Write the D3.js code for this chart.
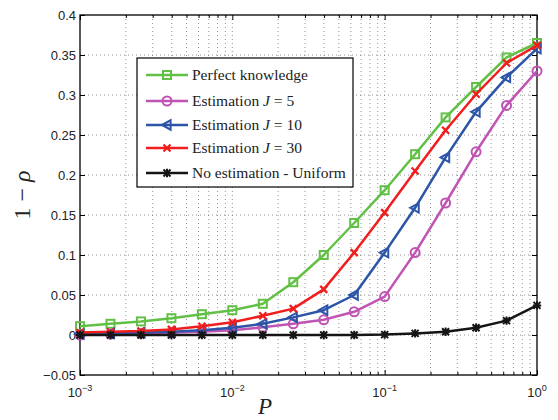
<!DOCTYPE html>
<html><head><meta charset="utf-8">
<script src="https://cdn.jsdelivr.net/npm/d3@7"></script>
<style>body{margin:0;background:#fff}svg{display:block}
.serif{font-family:'Liberation Serif','Times New Roman','DejaVu Serif',serif}
.sans{font-family:'Liberation Sans',Arial,sans-serif}</style>
</head><body>
<svg id="chart" width="558" height="420"></svg>
<script>
const xExponents = [-3,-2.8,-2.6,-2.4,-2.2,-2,-1.8,-1.6,-1.4,-1.2,-1,-0.8,-0.6,-0.4,-0.2,0];
const perfect = [0.011,0.014,0.017,0.021,0.026,0.031,0.039,0.066,0.100,0.140,0.181,0.226,0.272,0.310,0.347,0.365];
const estJ5  = [0.000,0.001,0.002,0.003,0.004,0.006,0.0096,0.014,0.019,0.029,0.048,0.103,0.165,0.229,0.287,0.330];
const estJ10 = [0.001,0.002,0.003,0.004,0.006,0.009,0.014,0.022,0.031,0.050,0.103,0.159,0.222,0.279,0.322,0.358];
const estJ30 = [0.003,0.004,0.005,0.007,0.011,0.016,0.024,0.033,0.057,0.103,0.153,0.205,0.256,0.301,0.340,0.362];
const noEst  = [0,0,0,0,0,0,0,0,0,0,0.0005,0.002,0.004,0.009,0.018,0.037];
const yTicks = [-0.05,0,0.05,0.1,0.15,0.2,0.25,0.3,0.35,0.4];
const yTickLabels = ["\u22120.05","0","0.05","0.1","0.15","0.2","0.25","0.3","0.35","0.4"];
const xTickExps = [-3,-2,-1,0];

const seriesNames = ["Perfect knowledge","Estimation J = 5","Estimation J = 10","Estimation J = 30","No estimation - Uniform"];
const seriesData = [perfect, estJ5, estJ10, estJ30, noEst];
const colors = ["#62c046","#c054b4","#2c55a8","#f01e1e","#151515"];
const markers = ["square","circle","triangle","x","star"];

const W=558,H=420, m={l:80,r:21,t:15,b:45};
const svg=d3.select("#chart");
const x=d3.scaleLog().domain([1e-3,1]).range([m.l,W-m.r]);
const y=d3.scaleLinear().domain([-0.05,0.4]).range([H-m.b,m.t]);

// grid
const g=svg.append("g");
const minor=[];
for(let e=-3;e<0;e++) for(let k=1;k<=9;k++) minor.push(k*Math.pow(10,e));
minor.push(1);
g.selectAll(".vg").data(minor.filter(v=>v>1e-3&&v<1)).join("line")
 .attr("x1",d=>x(d)).attr("x2",d=>x(d)).attr("y1",m.t).attr("y2",H-m.b)
 .attr("stroke","#777").attr("stroke-width",0.8).attr("stroke-dasharray","1,3");
g.selectAll(".hg").data(yTicks.slice(1,-1)).join("line")
 .attr("y1",d=>y(d)).attr("y2",d=>y(d)).attr("x1",m.l).attr("x2",W-m.r)
 .attr("stroke","#777").attr("stroke-width",0.8).attr("stroke-dasharray","1,3");

// axes via d3
const yAxisL=d3.axisLeft(y).tickValues(yTicks).tickFormat((d,i)=>yTickLabels[i]).tickSizeInner(-5).tickSizeOuter(0).tickPadding(4);
const ya=svg.append("g").attr("transform",`translate(${m.l},0)`).call(yAxisL);
ya.select(".domain").remove();
ya.selectAll("text").attr("class","sans").attr("font-family",null).attr("font-size",13).attr("fill","#222");
ya.selectAll("line").attr("stroke","#000");
const yAxisR=d3.axisRight(y).tickValues(yTicks).tickFormat("").tickSizeInner(-5).tickSizeOuter(0);
const yr=svg.append("g").attr("transform",`translate(${W-m.r},0)`).call(yAxisR);
yr.select(".domain").remove();
yr.selectAll("line").attr("stroke","#000");

const xAxisB=d3.axisBottom(x).tickValues(minor).tickFormat("").tickSizeInner(-3).tickSizeOuter(0);
const xb=svg.append("g").attr("transform",`translate(0,${H-m.b})`).call(xAxisB);
xb.select(".domain").remove();
xb.selectAll("line").attr("stroke","#000").attr("y2",d=>xTickExps.includes(Math.round(Math.log10(d)*1000)/1000)?-5:-3);
const xAxisT=d3.axisTop(x).tickValues(minor).tickFormat("").tickSizeInner(-3).tickSizeOuter(0);
const xt=svg.append("g").attr("transform",`translate(0,${m.t})`).call(xAxisT);
xt.select(".domain").remove();
xt.selectAll("line").attr("stroke","#000").attr("y2",d=>xTickExps.includes(Math.round(Math.log10(d)*1000)/1000)?5:3);

// x tick labels
const xl=svg.append("g");
xTickExps.forEach(e=>{
  const t=xl.append("text").attr("class","sans").attr("x",x(Math.pow(10,e))).attr("y",H-m.b+22)
   .attr("text-anchor","middle").attr("font-size",13).attr("fill","#222");
  t.append("tspan").text("10");
  t.append("tspan").attr("dy",-6).attr("font-size",9).text(e===0?"0":"\u2212"+(-e));
});

// box
svg.append("rect").attr("x",m.l).attr("y",m.t).attr("width",W-m.l-m.r).attr("height",H-m.t-m.b)
 .attr("fill","none").attr("stroke","#000").attr("stroke-width",1.3);

function drawMarker(sel,type,color,s){
  sel.each(function(){
    const n=d3.select(this);
    if(type==="square") n.append("rect").attr("x",-s).attr("y",-s).attr("width",2*s).attr("height",2*s).attr("fill","none").attr("stroke",color).attr("stroke-width",2);
    else if(type==="circle") n.append("circle").attr("r",s).attr("fill","none").attr("stroke",color).attr("stroke-width",2);
    else if(type==="triangle") n.append("path").attr("d",`M${-s*1.1},0L${s*0.8},${-s*1.05}L${s*0.8},${s*1.05}Z`).attr("fill","none").attr("stroke",color).attr("stroke-width",2);
    else if(type==="x") n.append("path").attr("d",`M${-s},${-s}L${s},${s}M${-s},${s}L${s},${-s}`).attr("stroke",color).attr("stroke-width",2.2);
    else if(type==="star") n.append("path").attr("d",`M${-s},${-s}L${s},${s}M${-s},${s}L${s},${-s}M${-s*1.2},0L${s*1.2},0M0,${-s*1.2}L0,${s*1.2}`).attr("stroke",color).attr("stroke-width",2);
  });
}

const line=d3.line().x((d,i)=>x(Math.pow(10,xExponents[i]))).y(d=>y(d));
const plot=svg.append("g");
seriesData.forEach((data,si)=>{
  plot.append("path").datum(data).attr("d",line).attr("fill","none").attr("stroke",colors[si]).attr("stroke-width",2.5).attr("stroke-linejoin","round");
  const mk=plot.selectAll(null).data(data).join("g").attr("transform",(d,i)=>`translate(${x(Math.pow(10,xExponents[i]))},${y(d)})`);
  drawMarker(mk,markers[si],colors[si],si===1?4.5:(si===0?4:(si===2?4.5:3.5)));
});

// legend
const lg=svg.append("g");
lg.append("rect").attr("x",137).attr("y",58).attr("width",216).attr("height",129).attr("fill","#fff").attr("stroke","#000").attr("stroke-width",1.2);
const ly=[75,101,125,148,173];
seriesNames.forEach((name,i)=>{
  lg.append("line").attr("x1",146).attr("x2",188).attr("y1",ly[i]).attr("y2",ly[i]).attr("stroke",colors[i]).attr("stroke-width",2.5);
  const mk=lg.append("g").attr("transform",`translate(167,${ly[i]})`);
  drawMarker(mk,markers[i],colors[i],i===1?4.5:(i===0?4:(i===2?4.5:3.5)));
  const t=lg.append("text").attr("class","serif").attr("x",192).attr("y",ly[i]+5).attr("font-size",15.5).attr("fill","#222");
  const mm=name.match(/^(Estimation )J( = )(\d+)$/);
  if(mm){
    t.append("tspan").text(mm[1]);
    t.append("tspan").attr("font-style","italic").text("J");
    t.append("tspan").text(" = "+mm[3]);
  } else t.text(name);
});

// axis labels
svg.append("text").attr("class","serif").attr("x",265).attr("y",414).attr("text-anchor","middle").attr("font-style","italic").attr("font-size",23).attr("fill","#222").text("P");
svg.append("text").attr("class","serif").attr("transform","translate(30,195) rotate(-90)").attr("text-anchor","middle").attr("font-size",24).attr("fill","#222")
 .call(t=>{t.append("tspan").text("1 \u2212 ");t.append("tspan").attr("font-style","italic").text("\u03c1");});
</script>
</body></html>
